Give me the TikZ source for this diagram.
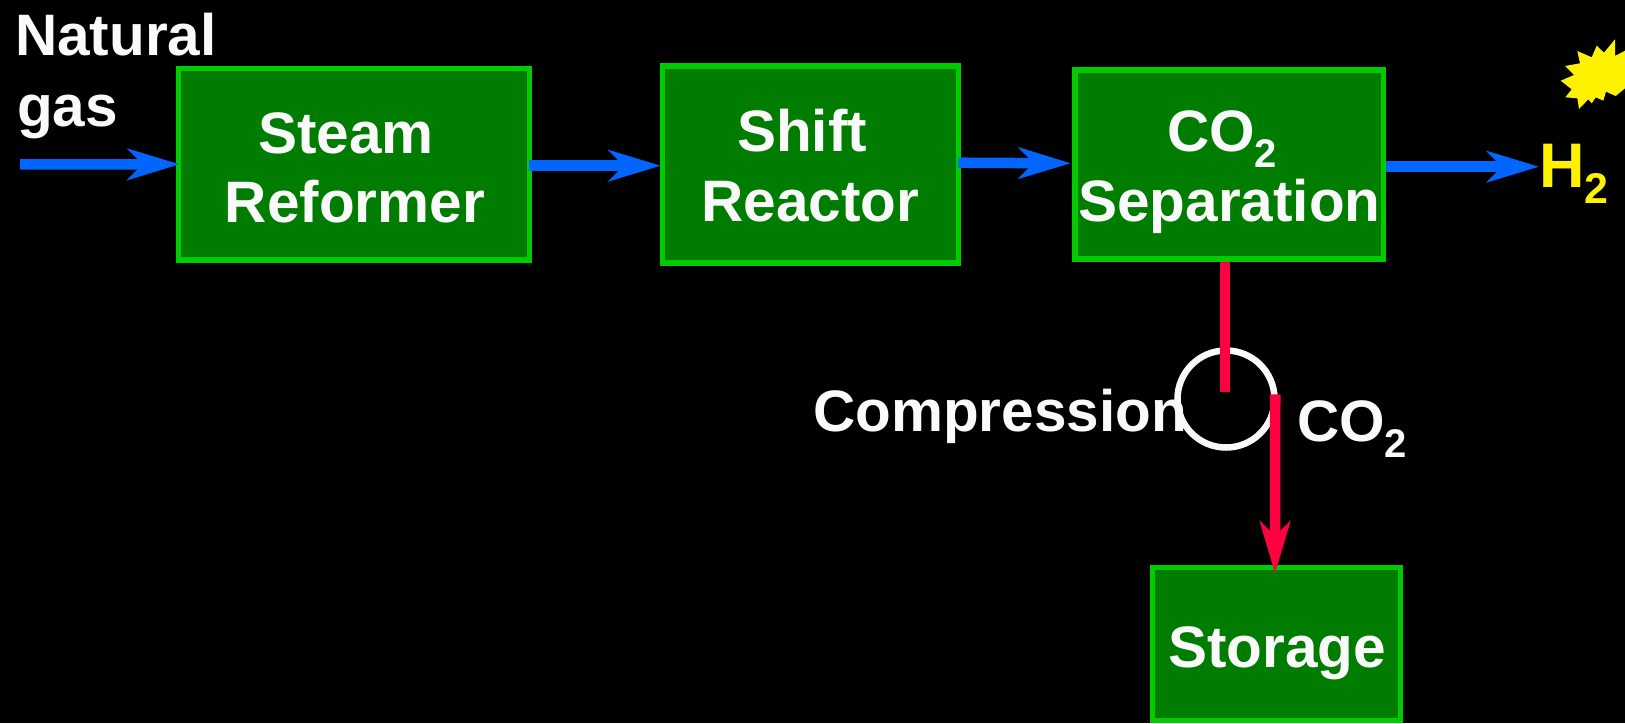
\documentclass[tikz,border=0pt]{standalone}
\usepackage{fontspec}
\setmainfont{Liberation Sans}
\usetikzlibrary{arrows.meta}
\definecolor{boxfill}{RGB}{0,125,0}
\definecolor{boxline}{RGB}{0,204,0}
\definecolor{flowblue}{RGB}{0,102,255}
\definecolor{flowred}{RGB}{255,0,64}
\definecolor{txt}{RGB}{250,250,250}
\newcommand{\subtwo}[1]{\raisebox{-16pt}{\fontsize{#1}{#1}\selectfont 2}}
\tikzset{
 unit/.style={draw=boxline,fill=boxfill,line width=5.5pt,rectangle,inner sep=0pt},
 lab/.style={text=txt,font=\fontsize{58.5}{69}\selectfont\bfseries,align=center,inner sep=0pt},
 blueflow/.style={draw=flowblue,line width=10.5pt,-{Stealth[length=52pt,width=31pt,inset=15pt]}},
 redline/.style={draw=flowred,line width=10.5pt},
 redflow/.style={redline,-{Stealth[length=52pt,width=30pt,inset=14pt]}},
}
\begin{document}
\begin{tikzpicture}[x=1pt,y=-1pt]
\useasboundingbox (0,0) rectangle (1625,723);
\fill[black] (0,0) rectangle (1625,723);
\node[unit,minimum width=351pt,minimum height=191.7pt] (reformer) at (354,164.3) {};
\node[unit,minimum width=296pt,minimum height=197.4pt] (shift) at (810.5,164.5) {};
\node[unit,minimum width=308.5pt,minimum height=188.6pt] (sep) at (1229.3,164.5) {};
\node[unit,minimum width=248pt,minimum height=153pt] (store) at (1276.5,644) {};
\node[lab,anchor=base] (t1) at (346,153) {Steam};
\node[lab,anchor=base] (t2) at (355,222) {Reformer};
\node[lab,anchor=base] (t3) at (802,151) {Shift};
\node[lab,anchor=base] (t4) at (810.5,221.7) {Reactor};
\node[lab,anchor=base] (t5) at (1222,151.7) {CO\subtwo{40}};
\node[lab,anchor=base] (t6) at (1229.5,221.7) {Separation};
\node[lab,anchor=base] (t7) at (1277,667) {Storage};
\node[lab,anchor=base west] (ng1) at (15,55) {Natural};
\node[lab,anchor=base west] (ng2) at (17,126) {gas};
\node[lab,anchor=base west] (comp) at (813,431.5) {Compression};
\node[lab,anchor=base west] (co2) at (1297,441.7) {CO\subtwo{40}};
\node[lab,anchor=base west,text=yellow,font=\fontsize{63}{69}\selectfont\bfseries] (h2) at (1539,187.7) {H\subtwo{43}};
\node[circle,draw=txt,line width=6.5pt,minimum size=97pt,inner sep=0pt] (comp0) at (1226,399) {};
\coordinate (in) at (20,164.4);
\draw[blueflow] (in) -- ([xshift=4pt]reformer.west);
\draw[blueflow] ([xshift=-3pt,yshift=-1.4pt]reformer.east) -- ([xshift=1pt,yshift=-1.2pt]shift.west);
\draw[blueflow] ([xshift=-3pt,yshift=1.8pt]shift.east) -- ([xshift=-1.5pt,yshift=1.2pt]sep.west);
\draw[blueflow] ([yshift=-2.2pt]sep.east) -- ([yshift=-2.2pt]sep.east -| h2.west);
\draw[redline] ([xshift=-4.3pt]sep.south) -- ([xshift=-1pt,yshift=7.3pt]comp0.center);
\draw[redflow] ([xshift=-2.5pt,yshift=4.7pt]comp0.east) -- ([xshift=-1.5pt,yshift=-9pt]store.north);
\fill[yellow] (1560.7,80.7) -- (1574,75) -- (1565,66) -- (1580,63.3) -- (1577.3,51) -- (1591.7,57.3) -- (1596.7,45.7) -- (1604,52.7) -- (1615,39.3) -- (1615,56) -- (1625,50.7) -- (1625,88.3) -- (1615.7,96) -- (1606,91.7) -- (1603.3,100.7) -- (1595.7,97.3) -- (1591.7,103.3) -- (1588.3,99.3) -- (1579,109) -- (1577.3,98.3) -- (1565.3,97.3) -- (1571.7,89.3) -- cycle;
\end{tikzpicture}
\end{document}
